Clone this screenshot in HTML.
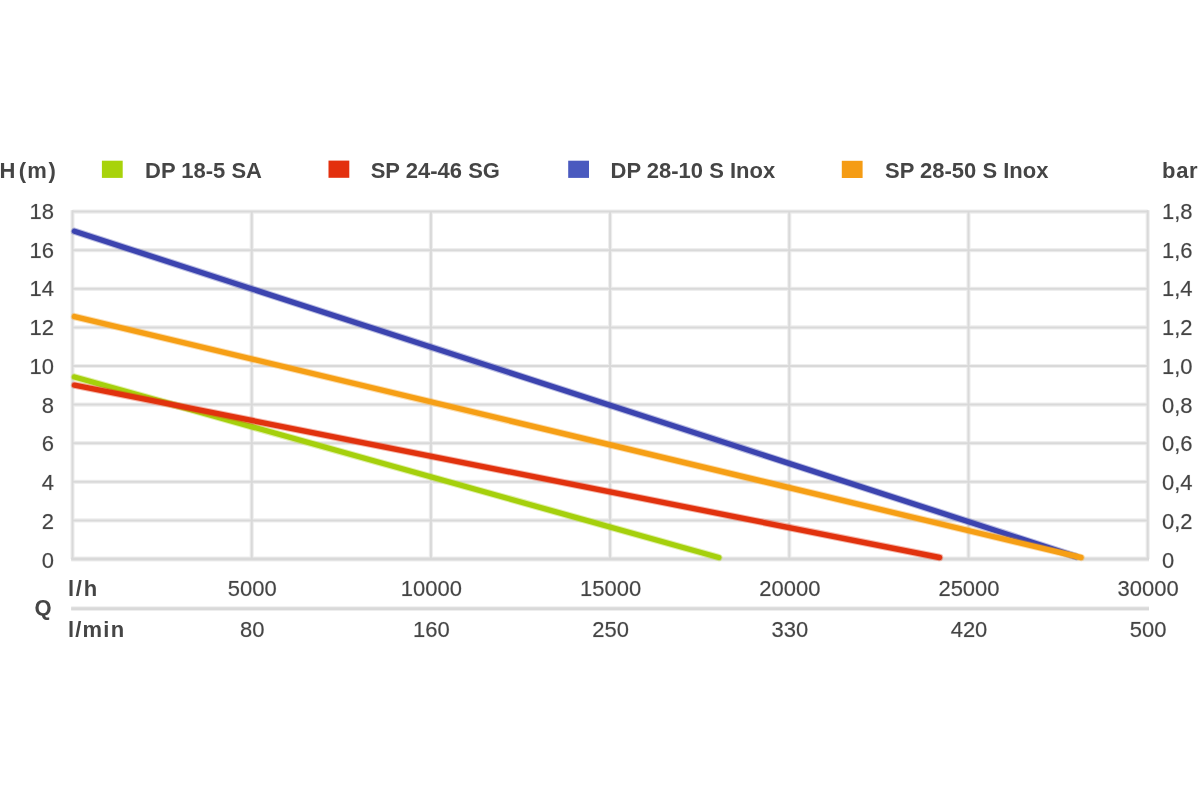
<!DOCTYPE html>
<html><head><meta charset="utf-8"><style>
html,body{margin:0;padding:0;background:#fff;width:1200px;height:800px;overflow:hidden}
svg{position:absolute;left:0;top:0;display:block;will-change:transform;}
text{font-family:"Liberation Sans",sans-serif;font-size:22px;fill:#454545}
.b{font-weight:700}
text{stroke:#454545;stroke-width:0.7px;stroke-opacity:0.25}
text.b{stroke-width:0px}
</style></head><body>
<svg width="1200" height="800" viewBox="0 0 1200 800">
<rect x="0" y="0" width="1200" height="800" fill="#fff"/>
<g stroke="#eeeeee" stroke-width="4.2" fill="none">
<line x1="72.5" y1="520.40" x2="1147.70" y2="520.40"/>
<line x1="72.5" y1="481.80" x2="1147.70" y2="481.80"/>
<line x1="72.5" y1="443.20" x2="1147.70" y2="443.20"/>
<line x1="72.5" y1="404.60" x2="1147.70" y2="404.60"/>
<line x1="72.5" y1="366.00" x2="1147.70" y2="366.00"/>
<line x1="72.5" y1="327.40" x2="1147.70" y2="327.40"/>
<line x1="72.5" y1="288.80" x2="1147.70" y2="288.80"/>
<line x1="72.5" y1="250.20" x2="1147.70" y2="250.20"/>
<line x1="72.5" y1="211.60" x2="1147.70" y2="211.60"/>
<line x1="251.70" y1="211.60" x2="251.70" y2="559.0"/>
<line x1="430.90" y1="211.60" x2="430.90" y2="559.0"/>
<line x1="610.10" y1="211.60" x2="610.10" y2="559.0"/>
<line x1="789.30" y1="211.60" x2="789.30" y2="559.0"/>
<line x1="968.50" y1="211.60" x2="968.50" y2="559.0"/>
<line x1="72.5" y1="210.30" x2="72.5" y2="559.0"/>
<line x1="1147.70" y1="210.30" x2="1147.70" y2="559.0"/>
</g>
<g stroke="#eeeeee" stroke-width="4.8" fill="none">
<line x1="71.2" y1="559.0" x2="1149.00" y2="559.0"/>
<line x1="71.2" y1="608.7" x2="1149.00" y2="608.7"/>
</g>
<g stroke="#d9d9d9" stroke-width="2.0" fill="none">
<line x1="72.5" y1="520.40" x2="1147.70" y2="520.40"/>
<line x1="72.5" y1="481.80" x2="1147.70" y2="481.80"/>
<line x1="72.5" y1="443.20" x2="1147.70" y2="443.20"/>
<line x1="72.5" y1="404.60" x2="1147.70" y2="404.60"/>
<line x1="72.5" y1="366.00" x2="1147.70" y2="366.00"/>
<line x1="72.5" y1="327.40" x2="1147.70" y2="327.40"/>
<line x1="72.5" y1="288.80" x2="1147.70" y2="288.80"/>
<line x1="72.5" y1="250.20" x2="1147.70" y2="250.20"/>
<line x1="72.5" y1="211.60" x2="1147.70" y2="211.60"/>
<line x1="251.70" y1="211.60" x2="251.70" y2="559.0"/>
<line x1="430.90" y1="211.60" x2="430.90" y2="559.0"/>
<line x1="610.10" y1="211.60" x2="610.10" y2="559.0"/>
<line x1="789.30" y1="211.60" x2="789.30" y2="559.0"/>
<line x1="968.50" y1="211.60" x2="968.50" y2="559.0"/>
<line x1="72.5" y1="210.30" x2="72.5" y2="559.0"/>
<line x1="1147.70" y1="210.30" x2="1147.70" y2="559.0"/>
</g>
<g stroke="#d9d9d9" stroke-width="2.8" fill="none">
<line x1="71.2" y1="559.0" x2="1149.00" y2="559.0"/>
<line x1="71.2" y1="608.7" x2="1149.00" y2="608.7"/>
</g>
<g stroke-width="5.4" stroke-linecap="round" fill="none">
<line x1="74.5" y1="377.0" x2="718.8" y2="557.5" stroke="#a5d00c" stroke-width="7.4" stroke-opacity="0.35"/>
<line x1="74.5" y1="377.0" x2="718.8" y2="557.5" stroke="#a5d00c"/>
<line x1="74.5" y1="385.2" x2="939.5" y2="557.5" stroke="#e1320e" stroke-width="7.4" stroke-opacity="0.35"/>
<line x1="74.5" y1="385.2" x2="939.5" y2="557.5" stroke="#e1320e"/>
<line x1="74.5" y1="231.3" x2="1076" y2="556.6" stroke="#3c44af" stroke-width="7.4" stroke-opacity="0.35"/>
<line x1="74.5" y1="231.3" x2="1076" y2="556.6" stroke="#3c44af"/>
<line x1="74.5" y1="316.6" x2="1081" y2="557.5" stroke="#f69f15" stroke-width="7.4" stroke-opacity="0.35"/>
<line x1="74.5" y1="316.6" x2="1081" y2="557.5" stroke="#f69f15"/>
</g>
<g>
<text class="b" x="-0.5" y="178.00" transform="matrix(1 0 0 1.045 0 -8.010)">H<tspan dx="3.3">(</tspan><tspan dx="1.2">m</tspan><tspan dx="1.6">)</tspan></text>
<rect x="101.9" y="160.7" width="20.8" height="17.2" fill="#a8d30b"/>
<text class="b" x="145" y="178.00" transform="matrix(1 0 0 1.045 0 -8.010)">DP 18-5 SA</text>
<rect x="328.5" y="160.6" width="20.8" height="17.2" fill="#e3300e"/>
<text class="b" x="370.7" y="178.00" transform="matrix(1 0 0 1.045 0 -8.010)">SP 24-46 SG</text>
<rect x="568.2" y="160.7" width="20.8" height="17.2" fill="#4a5abf"/>
<text class="b" x="610.5" y="178.00" transform="matrix(1 0 0 1.045 0 -8.010)">DP 28-10 S Inox</text>
<rect x="841.8" y="160.8" width="20.8" height="17.2" fill="#f59c14"/>
<text class="b" x="885" y="178.00" transform="matrix(1 0 0 1.045 0 -8.010)">SP 28-50 S Inox</text>
<text class="b" x="1162" y="178.00" transform="matrix(1 0 0 1.045 0 -8.010)" letter-spacing="0.7">bar</text>
</g>
<g>
<text x="54" y="567.66" text-anchor="end" transform="matrix(1 0 0 1.045 0 -25.545)">0</text>
<text x="54" y="528.92" text-anchor="end" transform="matrix(1 0 0 1.045 0 -23.801)">2</text>
<text x="54" y="490.18" text-anchor="end" transform="matrix(1 0 0 1.045 0 -22.058)">4</text>
<text x="54" y="451.44" text-anchor="end" transform="matrix(1 0 0 1.045 0 -20.315)">6</text>
<text x="54" y="412.70" text-anchor="end" transform="matrix(1 0 0 1.045 0 -18.571)">8</text>
<text x="54" y="373.96" text-anchor="end" transform="matrix(1 0 0 1.045 0 -16.828)">10</text>
<text x="54" y="335.22" text-anchor="end" transform="matrix(1 0 0 1.045 0 -15.085)">12</text>
<text x="54" y="296.48" text-anchor="end" transform="matrix(1 0 0 1.045 0 -13.342)">14</text>
<text x="54" y="257.74" text-anchor="end" transform="matrix(1 0 0 1.045 0 -11.598)">16</text>
<text x="54" y="219.00" text-anchor="end" transform="matrix(1 0 0 1.045 0 -9.855)">18</text>
<text x="1162" y="567.66" transform="matrix(1 0 0 1.045 0 -25.545)">0</text>
<text x="1162" y="528.92" transform="matrix(1 0 0 1.045 0 -23.801)">0,2</text>
<text x="1162" y="490.18" transform="matrix(1 0 0 1.045 0 -22.058)">0,4</text>
<text x="1162" y="451.44" transform="matrix(1 0 0 1.045 0 -20.315)">0,6</text>
<text x="1162" y="412.70" transform="matrix(1 0 0 1.045 0 -18.571)">0,8</text>
<text x="1162" y="373.96" transform="matrix(1 0 0 1.045 0 -16.828)">1,0</text>
<text x="1162" y="335.22" transform="matrix(1 0 0 1.045 0 -15.085)">1,2</text>
<text x="1162" y="296.48" transform="matrix(1 0 0 1.045 0 -13.342)">1,4</text>
<text x="1162" y="257.74" transform="matrix(1 0 0 1.045 0 -11.598)">1,6</text>
<text x="1162" y="219.00" transform="matrix(1 0 0 1.045 0 -9.855)">1,8</text>
<text x="252.2" y="596.20" text-anchor="middle" transform="matrix(1 0 0 1.045 0 -26.829)">5000</text>
<text x="252.2" y="637.40" text-anchor="middle" transform="matrix(1 0 0 1.045 0 -28.683)">80</text>
<text x="431.4" y="596.20" text-anchor="middle" transform="matrix(1 0 0 1.045 0 -26.829)">10000</text>
<text x="431.4" y="637.40" text-anchor="middle" transform="matrix(1 0 0 1.045 0 -28.683)">160</text>
<text x="610.6" y="596.20" text-anchor="middle" transform="matrix(1 0 0 1.045 0 -26.829)">15000</text>
<text x="610.6" y="637.40" text-anchor="middle" transform="matrix(1 0 0 1.045 0 -28.683)">250</text>
<text x="789.8" y="596.20" text-anchor="middle" transform="matrix(1 0 0 1.045 0 -26.829)">20000</text>
<text x="789.8" y="637.40" text-anchor="middle" transform="matrix(1 0 0 1.045 0 -28.683)">330</text>
<text x="969.0" y="596.20" text-anchor="middle" transform="matrix(1 0 0 1.045 0 -26.829)">25000</text>
<text x="969.0" y="637.40" text-anchor="middle" transform="matrix(1 0 0 1.045 0 -28.683)">420</text>
<text x="1148.2" y="596.20" text-anchor="middle" transform="matrix(1 0 0 1.045 0 -26.829)">30000</text>
<text x="1148.2" y="637.40" text-anchor="middle" transform="matrix(1 0 0 1.045 0 -28.683)">500</text>
<text class="b" x="68" y="596.00" transform="matrix(1 0 0 1.045 0 -26.820)" letter-spacing="1.75">l/h</text>
<text class="b" x="34.6" y="615.00" transform="matrix(1 0 0 1.045 0 -27.675)">Q</text>
<text class="b" x="68" y="637.50" transform="matrix(1 0 0 1.045 0 -28.687)" letter-spacing="1.2">l/min</text>
</g>
</svg>
</body></html>
